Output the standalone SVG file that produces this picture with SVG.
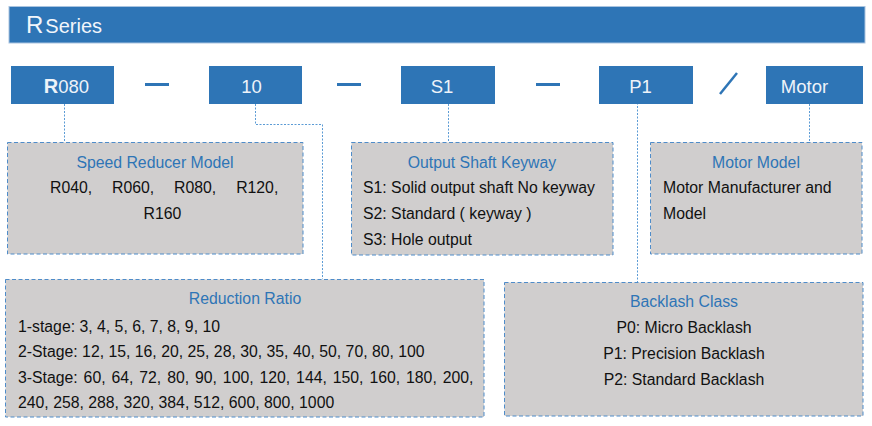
<svg xmlns="http://www.w3.org/2000/svg" width="872" height="426" viewBox="0 0 872 426">
<style>
.code{fill:#2e75b6}
.codetxt{font-family:"Liberation Sans",Arial,sans-serif;font-size:18.5px;fill:#eef3f9;text-anchor:middle}
.box{fill:#d0cece;stroke:#4f8cc9;stroke-width:1;stroke-dasharray:4 2.5}
.title{font-family:"Liberation Sans",Arial,sans-serif;font-size:15.8px;fill:#2e75b6}
.body{font-family:"Liberation Sans",Arial,sans-serif;font-size:15.8px;fill:#111}
.c{text-anchor:middle}
.conn{fill:none;stroke:#5b9bd5;stroke-width:1;stroke-dasharray:2 1.5}
.sep{stroke:#2e75b6;stroke-width:3;fill:none}
</style>
<g id="header">
<rect x="9" y="6.5" width="856" height="36.5" fill="#2e75b6" stroke="#a9c4e0" stroke-width="1"/>
<text x="26" y="33" font-family="'Liberation Sans',Arial,sans-serif" fill="#f2f6fb"><tspan font-size="24">R</tspan><tspan font-size="20" dx="2">Series</tspan></text>
</g>
<g id="connectors">
<path class="conn" d="M64.5 104V142"/>
<path class="conn" d="M255.5 104V124.5H322.5V279"/>
<path class="conn" d="M448.5 104V142"/>
<path class="conn" d="M637.5 99V282"/>
<path class="conn" d="M809.5 104V142"/>
</g>
<g id="separators">
<path class="sep" d="M145 84.5H169"/>
<path class="sep" d="M337 84.5H361"/>
<path class="sep" d="M536 84.5H560"/>
<path d="M720 94L737 73" stroke="#2e75b6" stroke-width="2.5" fill="none"/>
</g>
<g id="code-r080">
<rect class="code" x="11" y="66" width="103" height="38"/>
<text class="codetxt" x="66.5" y="93"><tspan font-weight="bold" font-size="20">R</tspan>080</text>
</g>
<g id="code-10">
<rect class="code" x="209" y="66" width="93" height="38"/>
<text class="codetxt" x="251.5" y="93">10</text>
</g>
<g id="code-s1">
<rect class="code" x="401" y="66" width="94" height="38"/>
<text class="codetxt" x="442" y="93">S1</text>
</g>
<g id="code-p1">
<rect class="code" x="599" y="66" width="94" height="38"/>
<text class="codetxt" x="640.5" y="93">P1</text>
</g>
<g id="code-motor">
<rect class="code" x="766" y="66" width="97" height="38"/>
<text class="codetxt" x="804.5" y="93">Motor</text>
</g>
<g id="speed-reducer-model">
<rect class="box" x="7.5" y="142.5" width="295.5" height="111.5"/>
<text class="title c" x="155" y="168">Speed Reducer Model</text>
<text class="body" x="50" y="193" word-spacing="15.5">R040, R060, R080, R120,</text>
<text class="body c" x="162.5" y="219">R160</text>
</g>
<g id="output-shaft-keyway">
<rect class="box" x="351.5" y="142.5" width="261.5" height="112.5"/>
<text class="title c" x="482" y="168">Output Shaft Keyway</text>
<text class="body" x="363" y="193">S1: Solid output shaft No keyway</text>
<text class="body" x="363" y="219">S2: Standard ( keyway )</text>
<text class="body" x="363" y="245">S3: Hole output</text>
</g>
<g id="motor-model">
<rect class="box" x="650.5" y="142.5" width="211.5" height="111.5"/>
<text class="title c" x="756" y="168">Motor Model</text>
<text class="body" x="663" y="193">Motor Manufacturer and</text>
<text class="body" x="663" y="219">Model</text>
</g>
<g id="reduction-ratio">
<rect class="box" x="5.5" y="279.5" width="478.5" height="137.5"/>
<text class="title c" x="245" y="304">Reduction Ratio</text>
<text class="body" x="18" y="332">1-stage: 3, 4, 5, 6, 7, 8, 9, 10</text>
<text class="body" x="18" y="357">2-Stage: 12, 15, 16, 20, 25, 28, 30, 35, 40, 50, 70, 80, 100</text>
<text class="body" x="18" y="383" word-spacing="1.5">3-Stage: 60, 64, 72, 80, 90, 100, 120, 144, 150, 160, 180, 200,</text>
<text class="body" x="18" y="408">240, 258, 288, 320, 384, 512, 600, 800, 1000</text>
</g>
<g id="backlash-class">
<rect class="box" x="504.5" y="282.5" width="358.5" height="133.5"/>
<text class="title c" x="684" y="307">Backlash Class</text>
<text class="body c" x="684" y="333">P0: Micro Backlash</text>
<text class="body c" x="684" y="359">P1: Precision Backlash</text>
<text class="body c" x="684" y="385">P2: Standard Backlash</text>
</g>
</svg>
